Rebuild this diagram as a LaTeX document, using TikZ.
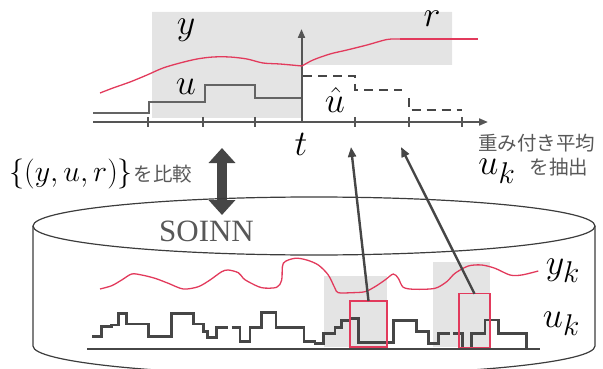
\documentclass[tikz,border=0pt]{standalone}
\usepackage{fontspec}
\newfontfamily\jp{Noto Sans CJK JP}
\newfontfamily\serifsoinn{Liberation Serif}
\usetikzlibrary{arrows.meta}
\newcommand{\mlbl}[2][1.447]{\scalebox{#1}{\Huge$#2$}}
\definecolor{rline}{RGB}{226,58,92}
\definecolor{lightg}{RGB}{228,228,228}
\definecolor{axg}{RGB}{85,85,85}
\definecolor{ug}{RGB}{100,100,100}
\definecolor{dkg}{RGB}{70,70,70}
\definecolor{cylg}{RGB}{60,60,60}
\definecolor{txtg}{RGB}{88,88,88}
\begin{document}
\begin{tikzpicture}[x=1pt,y=-1pt,
  axisline/.style={draw=axg,line width=2pt},
  axarrow/.style={-{Triangle[length=9pt,width=7pt]}},
  uline/.style={draw=ug,line width=2pt},
  dashu/.style={draw=dkg,line width=2pt,dash pattern=on 9pt off 6pt},
  redc/.style={draw=rline,line width=1.3pt},
  ukline/.style={draw=dkg,line width=2.6pt},
  redbox/.style={draw=rline,line width=1.2pt,rectangle,inner sep=0pt,outer sep=0pt},
  longarrow/.style={draw=dkg,line width=2.4pt,-{Triangle[length=10pt,width=8pt]}},
  cyl/.style={draw=cylg,line width=1.2pt},
  mathlbl/.style={inner sep=0pt,anchor=base},
  jptext/.style={inner sep=0pt,text=txtg,font=\jp\fontsize{19.5}{22}\selectfont}
]
\useasboundingbox (0,0) rectangle (603,369);

% ---------- top plot ----------
\fill[lightg] (152,12) -- (452,12) -- (452,65) -- (301.5,65) -- (301.5,118) -- (152,118) -- cycle;

\coordinate (hx0) at (93,122);
\coordinate (hx1) at (488,122);
\draw[axisline,axarrow] (hx0) -- (hx1);
\foreach \x in {148,203,255,355,408.5,462}
  \draw[axisline] (\x,117) -- (\x,127);

\draw[uline] (93,113) -- (149,113) -- (149,102) -- (205,102) -- (205,85) -- (255,85) -- (255,98) -- (301.5,98);

\coordinate (vt0) at (301.5,122);
\coordinate (vt1) at (301.5,29);
\draw[axisline,axarrow] (vt0) -- (vt1);

\draw[dashu] (303,76) -- (355,76) -- (355,90) -- (402,90);
\draw[dashu] (408.5,98) -- (408.5,110) -- (462,110);

\draw[redc] plot[smooth,tension=0.5] coordinates {(100,93) (113,88) (130,82) (147,75) (163,68) (180,63) (197,59) (213,57) (230,57) (247,59) (263,63) (280,64) (302,66)};
\draw[redc] plot[smooth,tension=0.5] coordinates {(302,66) (313,60) (330,54) (347,50) (367,45) (387,39.5) (400,39)};
\draw[redc] (400,39) -- (478,39);

\node[mathlbl] (ly) at (186,35) {\mlbl{y}};
\node[mathlbl] (lr) at (432,27) {\mlbl{r}};
\node[mathlbl] (lu) at (186,95) {\mlbl{u}};
\node[mathlbl] (luh) at (335,113) {\mlbl{\hat{u}}};
\node[mathlbl] (lt) at (301,155) {\mlbl{t}};

% ---------- texts ----------
\node[inner sep=0pt,anchor=base west] (cmp) at (9,181)
  {\mlbl[1.206]{\{(y,u,r)\}}\kern1pt{\jp\color{txtg}\fontsize{19.5}{22}\selectfont を比較}};
\node[jptext] (wavg) at (536.5,143) {重み付き平均};
\node[mathlbl] (luk2) at (497,175) {\mlbl{u_k}};
\node[jptext] (extr) at (559,167) {を抽出};

% ---------- double arrow ----------
\coordinate (d0) at (222,148);
\coordinate (d1) at (222,215);
\draw[draw=dkg,line width=10pt,{Triangle[length=15pt,width=26pt]}-{Triangle[length=15pt,width=26pt]}] (d0) -- (d1);

% ---------- cylinder ----------
\draw[cyl] (314,226) ellipse [x radius=281pt, y radius=29pt];
\draw[cyl] (33,226) -- (33,346) arc[start angle=180,end angle=360,x radius=281pt,y radius=29pt] -- (595,226);

\node[inner sep=0pt,anchor=base,text=txtg,font=\serifsoinn\fontsize{31}{34}\selectfont] (soinn) at (206.5,241.5) {SOINN};

% ---------- bottom plot ----------
\fill[lightg] (324,276) rectangle (387,347);
\fill[lightg] (433.3,261.7) rectangle (490,347);

\draw[redc] plot[smooth,tension=0.5] coordinates {(100,289) (111.7,285.7) (121.7,280) (131.7,274) (141.7,275) (155,278.3) (168.3,283.3) (183.3,289) (198.3,286.7) (210,280) (221.7,271.7) (228.3,270) (238.3,272.7) (243.3,278.3) (248.3,281.7) (261.7,287.7) (276.7,287.3) (281.7,280) (283.3,263.3) (295,258.3) (306.7,260) (318.3,265) (328.3,275) (335,288.3) (338.3,292.7) (351.7,292.7) (365,291.7) (375,286.7) (385,280) (393.3,274) (398.3,278.3) (403.3,287.3) (415,289.3) (435,288.3) (446.7,281.7) (455,273.3) (468.3,266) (481.7,265) (495,268.3) (510,275) (521.7,275) (538.3,271)};

\draw[ukline] (92,336.7) -- (101.7,336.7) -- (101.7,326.7) -- (111.7,326.7) -- (111.7,325) -- (118.3,325) -- (118.3,313.3) -- (126.7,313.3) -- (126.7,324) -- (148.3,324) -- (148.3,336.7) -- (171.7,336.7) -- (171.7,313.3) -- (193.3,313.3) -- (193.3,324) -- (203.3,324) -- (203.3,331.7) -- (207.3,331.7) -- (207.3,337.3) -- (216.7,337.3) -- (216.7,327.3) -- (228.3,327.3);
\draw[ukline] (231.7,327.3) -- (240,327.3) -- (240,341.7) -- (250,341.7) -- (250,327.3) -- (261.7,327.3) -- (261.7,312.7) -- (276,312.7) -- (276,327.3) -- (304,327.3) -- (304,341.7) -- (315,341.7) -- (315,343.3) -- (323.3,343.3) -- (323.3,333.3) -- (335,333.3) -- (335,327.3) -- (341.7,327.3) -- (341.7,320.7) -- (350,320.7) -- (350,318.3) -- (358.3,318.3) -- (358.3,342.7) -- (393.3,342.7) -- (393.3,320.7) -- (416.7,320.7) -- (416.7,331.7) -- (428.3,331.7) -- (428.3,343.3) -- (438.3,343.3) -- (438.3,333.3) -- (450,333.3);
\draw[ukline] (453.3,333.3) -- (462.3,333.3) -- (462.3,348.3);
\draw[ukline] (471.7,348.3) -- (471.7,333.3) -- (485,333.3) -- (485,320) -- (498.3,320) -- (498.3,333.3) -- (526.7,333.3) -- (526.7,348.3);

\coordinate (b0) at (87,349);
\coordinate (b1) at (540,349);
\draw[ukline] (b0) -- (b1);

\node[redbox,minimum width=37pt,minimum height=46pt] (r1) at (368.5,324) {};
\node[redbox,minimum width=31pt,minimum height=53.5pt] (r2) at (474.5,320.5) {};

\node[mathlbl] (lyk) at (563,274) {\mlbl{y_k}};
\node[mathlbl] (luk) at (561.5,327) {\mlbl{u_k}};

% ---------- long arrows ----------
\coordinate (a1) at (351,147);
\coordinate (a2) at (401,147);
\draw[longarrow] (r1.north) -- (a1);
\draw[longarrow] (r2.north) -- (a2);
\end{tikzpicture}
\end{document}
